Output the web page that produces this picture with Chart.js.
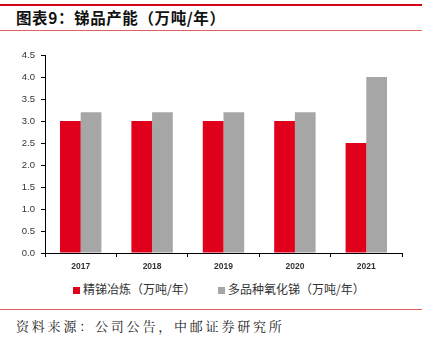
<!DOCTYPE html>
<html><head><meta charset="utf-8">
<script src="https://cdn.jsdelivr.net/npm/chart.js@4/dist/chart.umd.min.js"></script>
<style>
body{margin:0;background:#fff;}
#wrap{position:relative;width:423px;height:347px;overflow:hidden;font-family:"Noto Sans CJK SC",sans-serif;}
.topline{position:absolute;left:0;top:4px;width:422px;height:2px;background:#d9001b;}
.title{position:absolute;left:16px;top:6px;font-size:15.5px;font-weight:bold;color:#111;letter-spacing:0.6px;}
.midline{position:absolute;left:0;top:30px;width:422px;height:1px;background:#e06060;}
.botline{position:absolute;left:0;top:309px;width:422px;height:1px;background:#e06060;}
.source{position:absolute;left:16px;top:316px;font-size:13px;color:#222;letter-spacing:2.8px;font-family:"Noto Serif CJK SC","Noto Sans CJK SC",serif;}
#cw{position:absolute;left:0;top:40px;width:423px;height:237px;}
.leg{position:absolute;top:280px;height:18px;line-height:18px;font-size:12px;color:#333;white-space:nowrap;}
.leg i{display:inline-block;width:7px;height:7px;margin-right:3px;vertical-align:0px;}
</style></head><body>
<div id="wrap">
<div class="topline"></div>
<div class="title">图表9：锑品产能（万吨/年）</div>
<div class="midline"></div>
<div id="cw"><canvas id="c"></canvas></div>
<div class="leg" id="leg0" style="left:73px"></div>
<div class="leg" id="leg1" style="left:218px"></div>
<div class="botline"></div>
<div class="source">资料来源：公司公告，中邮证券研究所</div>
</div>
<script>
const categories = ["2017","2018","2019","2020","2021"];
const refined = [3.0, 3.0, 3.0, 3.0, 2.5];
const oxide = [3.2, 3.2, 3.2, 3.2, 4.0];
const seriesNames = ["精锑冶炼（万吨/年）","多品种氧化锑（万吨/年）"];
const yTicks = [0,0.5,1,1.5,2,2.5,3,3.5,4,4.5];
const colors = ['#e0001b', '#a6a6a6'];

const chart = new Chart(document.getElementById('c'), {
  type: 'bar',
  data: {
    labels: categories,
    datasets: [
      {label: seriesNames[0], data: refined, backgroundColor: colors[0], categoryPercentage: 0.58, barPercentage: 1.0},
      {label: seriesNames[1], data: oxide, backgroundColor: colors[1], categoryPercentage: 0.58, barPercentage: 1.0}
    ]
  },
  options: {
    responsive: true, maintainAspectRatio: false, animation: false,
    layout: {padding: {left: 0, right: 21, top: 15, bottom: 0}},
    plugins: {
      tooltip: {enabled: false},
      legend: {display: false}
    },
    scales: {
      x: {
        afterFit: (s) => { s.height = 24; },
        grid: {display: true, drawOnChartArea: false, offset: true, color: '#000', tickLength: 4, tickColor: '#000'},
        border: {display: true, color: '#000', width: 1},
        ticks: {color: '#333', padding: 5, font: {family: 'Liberation Sans, Arial', size: 8.5, weight: 'bold'}}
      },
      y: {
        min: 0, max: 4.5,
        afterFit: (s) => { s.width = 45; },
        afterBuildTicks: (s) => { s.ticks = yTicks.map(v => ({value: v})); },
        grid: {display: true, drawOnChartArea: false, color: '#000', tickLength: 4, tickColor: '#000'},
        border: {display: true, color: '#000', width: 1},
        ticks: {color: '#333', padding: 6, font: {family: 'Liberation Sans, Arial', size: 9.5},
          callback: (v) => Number(v).toFixed(1)}
      }
    }
  }
});
chart.data.datasets.forEach((ds, i) => {
  const el = document.getElementById('leg' + i);
  const box = document.createElement('i');
  box.style.background = ds.backgroundColor;
  el.appendChild(box);
  el.appendChild(document.createTextNode(ds.label));
});
</script>
</body></html>
